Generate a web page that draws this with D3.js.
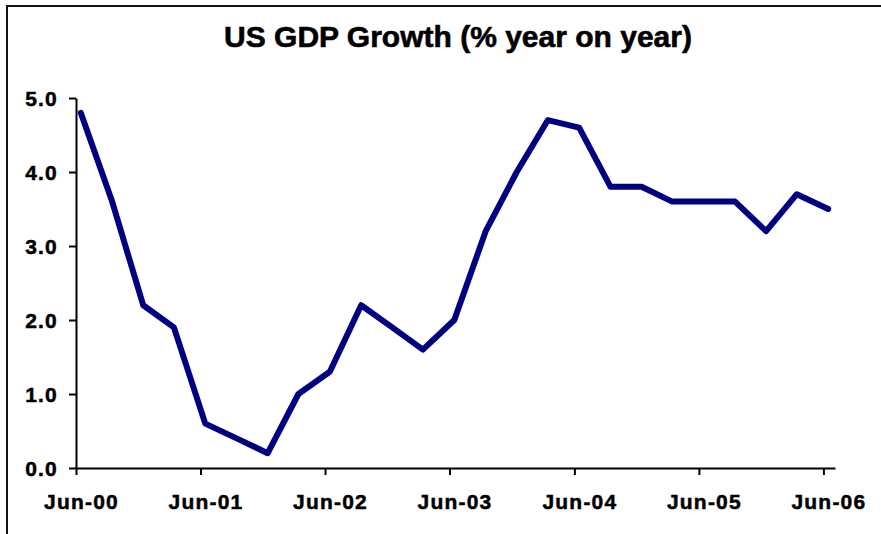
<!DOCTYPE html>
<html>
<head>
<meta charset="utf-8">
<script src="https://cdn.jsdelivr.net/npm/d3@7"></script>
<style>
  body { margin: 0; background: #fff; }
  svg { display: block; font-family: "Liberation Sans", Arial, sans-serif; }
  .axis text { font-size: 21px; font-weight: bold; letter-spacing: 1.2px; fill: #000; stroke: #000; stroke-width: 0.5px; }
  .axis path, .axis line { stroke: #000; stroke-width: 2; }
  .chart-title { font-size: 30px; font-weight: bold; fill: #000; stroke: #000; stroke-width: 0.6px; }
</style>
</head>
<body>
<div class="chart-container"></div>
<script>
// datos trimestrales (fin de trimestre)
const quarters = [
  "2000-06", "2000-09", "2000-12", "2001-03", "2001-06", "2001-09", "2001-12",
  "2002-03", "2002-06", "2002-09", "2002-12", "2003-03", "2003-06", "2003-09",
  "2003-12", "2004-03", "2004-06", "2004-09", "2004-12", "2005-03", "2005-06",
  "2005-09", "2005-12", "2006-03", "2006-06"
]
const growth = [
  4.8, 3.6, 2.2, 1.9, 0.6, 0.4, 0.2,
  1.0, 1.3, 2.2, 1.9, 1.6, 2.0, 3.2,
  4.0, 4.7, 4.6, 3.8, 3.8, 3.6, 3.6,
  3.6, 3.2, 3.7, 3.5
]
const yTicks = [0, 1, 2, 3, 4, 5]
const xTickYears = [2000, 2001, 2002, 2003, 2004, 2005, 2006]
const chartTitle = "US GDP Growth (% year on year)"

const WIDTH = 881
const HEIGHT = 534
const margin = { top: 98, bottom: 66, left: 76, right: 46 }
const width = WIDTH - margin.left - margin.right
const height = HEIGHT - margin.top - margin.bottom

const svg = d3.select(".chart-container")
  .append("svg")
  .attr("width", WIDTH)
  .attr("height", HEIGHT)

// marco (solo borde superior e izquierdo visibles)
svg.append("path")
  .attr("d", `M7,${HEIGHT} V6 H${WIDTH}`)
  .attr("fill", "none")
  .attr("stroke", "#111")
  .attr("stroke-width", 2)

// Titulo
svg.append("text")
  .attr("class", "chart-title")
  .attr("x", 458)
  .attr("y", 47)
  .style("text-anchor", "middle")
  .text(chartTitle)

const parseQ = d3.timeParse("%Y-%m-%d")
const data = quarters.map((q, i) => ({ date: parseQ(q + "-15"), value: growth[i] }))

// Escalas
const xScale = d3.scaleTime()
  .domain([new Date(2000, 5, 1), new Date(2006, 6, 5)])
  .range([0, width])
const yScale = d3.scaleLinear()
  .domain([0, 5])
  .range([height, 0])

const chart = svg.append("g").attr("transform", `translate(${margin.left}, ${margin.top})`)

// Eje X
const xAxis = d3.axisBottom(xScale)
  .tickValues(xTickYears.map(y => new Date(y, 5, 1)))
  .tickSize(7)
  .tickSizeOuter(0)
  .tickFormat(d3.timeFormat("%b-%y"))
const xAxisContainer = chart.append("g")
  .attr("class", "axis x-axis")
  .attr("transform", `translate(0, ${height})`)
  .call(xAxis)
xAxisContainer.selectAll("text")
  .attr("y", 41)
  .attr("dy", 0)
  .attr("dx", 5)

// Eje Y
const yAxis = d3.axisLeft(yScale)
  .tickValues(yTicks)
  .tickSize(7)
  .tickSizeOuter(0)
  .tickFormat(d3.format(".1f"))
const yAxisContainer = chart.append("g")
  .attr("class", "axis y-axis")
  .call(yAxis)
yAxisContainer.selectAll("text")
  .attr("x", -18)
  .attr("dy", "0.36em")

// Linea
const lineGenerator = d3.line()
  .x(d => xScale(d.date))
  .y(d => yScale(d.value))
  .curve(d3.curveLinear)

chart.append("path")
  .datum(data)
  .attr("class", "line")
  .attr("d", lineGenerator)
  .attr("fill", "none")
  .attr("stroke", "#000080")
  .attr("stroke-width", 6)
  .attr("stroke-linejoin", "round")
  .attr("stroke-linecap", "round")
</script>
</body>
</html>
